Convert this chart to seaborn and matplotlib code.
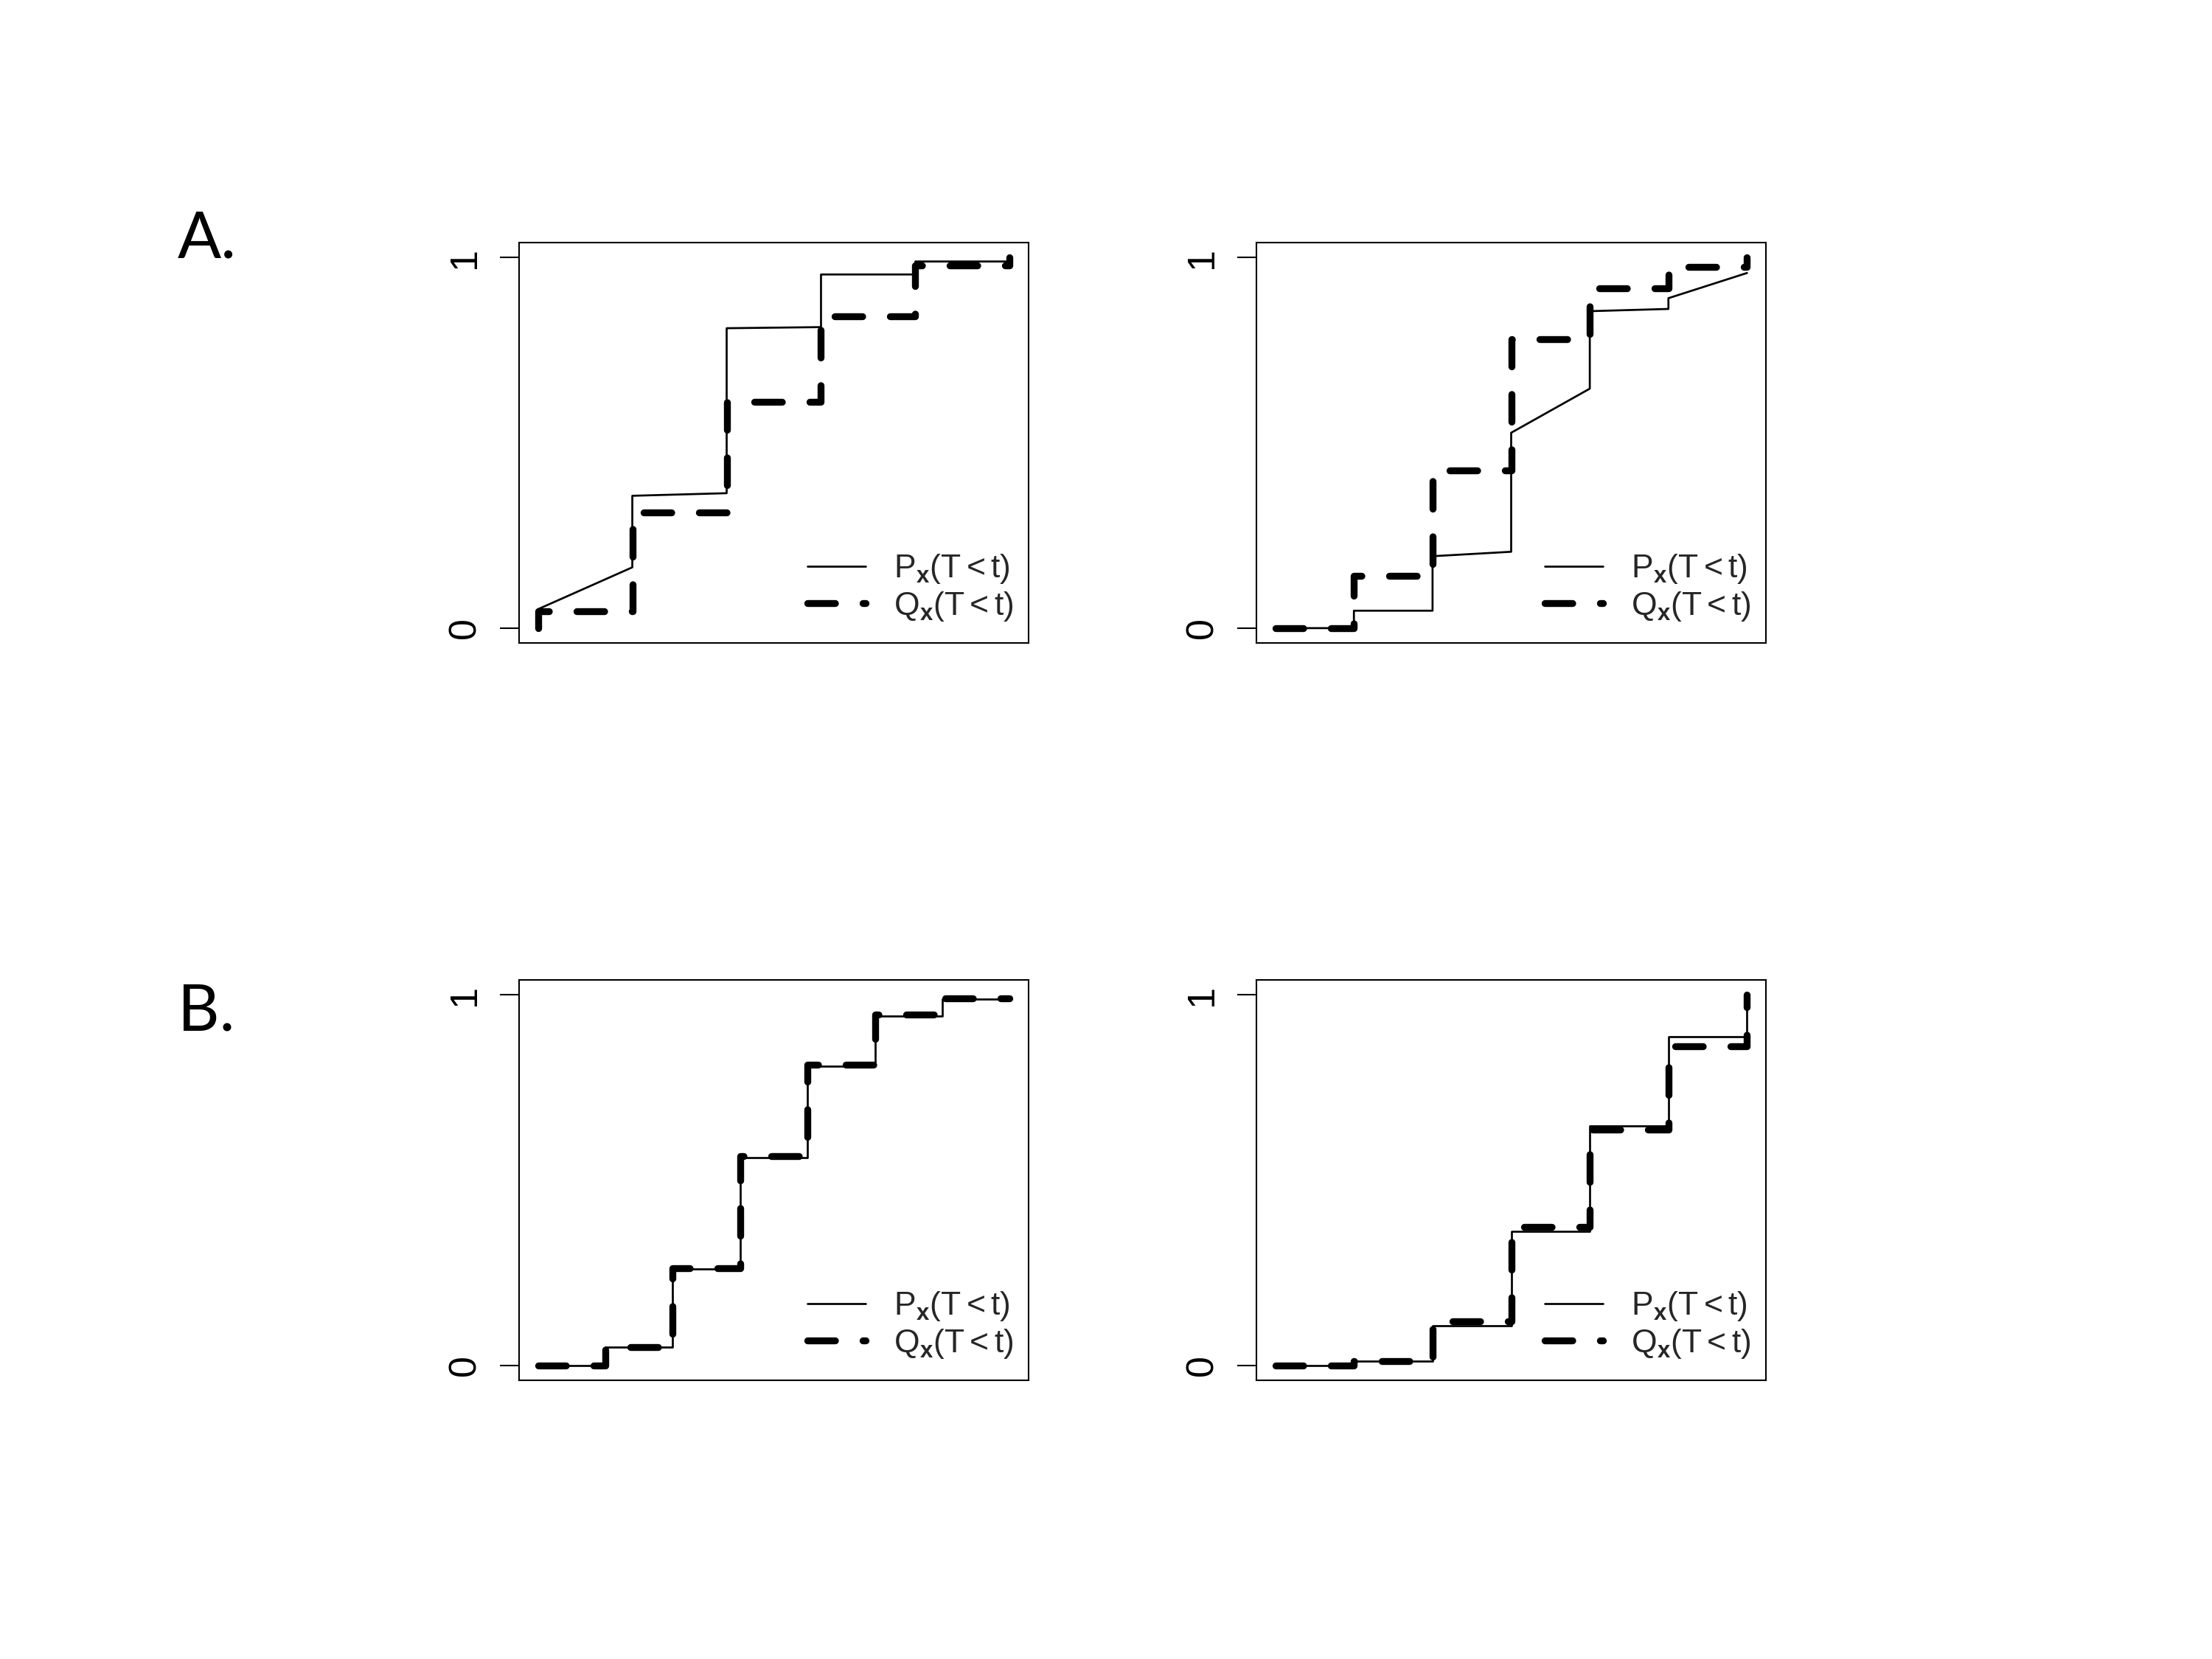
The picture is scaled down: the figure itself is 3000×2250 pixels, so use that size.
import seaborn as sns
import matplotlib.pyplot as plt

# A, left panel: P (thin solid), Q (thick dashed); time index 0..5
a1_p_t = [0, 1, 1, 2, 2, 3, 3, 4, 4, 5]
a1_p_v = [0.051, 0.164, 0.357, 0.364, 0.809, 0.812, 0.954, 0.954, 0.989, 0.989]
a1_q_t = [0, 0, 1, 1, 2, 2, 3, 3, 4, 4, 5, 5]
a1_q_v = [0, 0.046, 0.046, 0.3125, 0.3125, 0.61, 0.61, 0.842, 0.842, 0.979, 0.979, 1.0]

# A, right panel; time index 0..6
a2_p_t = [0, 1, 1, 2, 2, 3, 3, 4, 4, 5, 5, 6]
a2_p_v = [0, 0, 0.047, 0.047, 0.194, 0.206, 0.527, 0.646, 0.855, 0.861, 0.89, 0.958]
a2_q_t = [0, 1, 1, 2, 2, 3, 3, 4, 4, 5, 5, 6, 6]
a2_q_v = [0, 0, 0.141, 0.141, 0.425, 0.425, 0.779, 0.779, 0.917, 0.917, 0.974, 0.974, 1.0]

# B, left panel; time index 0..7
b1_p_t = [0, 1, 1, 2, 2, 3, 3, 4, 4, 5, 5, 6, 6, 7]
b1_p_v = [0, 0, 0.0495, 0.0495, 0.261, 0.261, 0.56, 0.56, 0.808, 0.808, 0.943, 0.943, 0.9886, 0.9886]
b1_q_t = [0, 1, 1, 2, 2, 3, 3, 4, 4, 5, 5, 6, 6, 7]
b1_q_v = [0, 0, 0.05, 0.05, 0.262, 0.262, 0.564, 0.564, 0.811, 0.811, 0.947, 0.947, 0.991, 0.991]

# B, right panel; time index 0..6
b2_p_t = [0, 1, 1, 2, 2, 3, 3, 4, 4, 5, 5, 6, 6]
b2_p_v = [0, 0, 0.0114, 0.0114, 0.108, 0.108, 0.362, 0.362, 0.646, 0.646, 0.886, 0.886, 1.0]
b2_q_t = [0, 1, 1, 2, 2, 3, 3, 4, 4, 5, 5, 6, 6]
b2_q_v = [0, 0, 0.011, 0.011, 0.12, 0.12, 0.373, 0.373, 0.636, 0.636, 0.861, 0.861, 1.0]

y_ticks = [0, 1]
y_tick_labels = ["0", "1"]
legend_labels = [r"$\mathrm{P}_{\mathbf{x}}\mathrm{(T<t)}$",
                 r"$\mathrm{Q}_{\mathbf{x}}\mathrm{(T<t)}$"]
panel_letters = ["A.", "B."]

sns.set_theme(style="white")
plt.rcParams["font.family"] = ["Liberation Sans", "DejaVu Sans"]
plt.rcParams["mathtext.fontset"] = "custom"
plt.rcParams["mathtext.rm"] = "Liberation Sans"
plt.rcParams["mathtext.it"] = "Liberation Sans:italic"
plt.rcParams["mathtext.bf"] = "Liberation Sans:bold"

fig = plt.figure(figsize=(10, 7.5), dpi=300)

W, H = 3000, 2250
box_w, box_h = 691, 543
lefts = [704, 1704]
tops = [329, 1329]

panels = [
    (0, 0, a1_p_t, a1_p_v, a1_q_t, a1_q_v),
    (0, 1, a2_p_t, a2_p_v, a2_q_t, a2_q_v),
    (1, 0, b1_p_t, b1_p_v, b1_q_t, b1_q_v),
    (1, 1, b2_p_t, b2_p_v, b2_q_t, b2_q_v),
]

for row, col, p_t, p_v, q_t, q_v in panels:
    ax = fig.add_axes([lefts[col] / W, 1 - (tops[row] + box_h) / H, box_w / W, box_h / H])
    sns.lineplot(x=p_t, y=p_v, ax=ax, sort=False, estimator=None, color="black",
                 lw=0.65, solid_capstyle="round", solid_joinstyle="round")
    sns.lineplot(x=q_t, y=q_v, ax=ax, sort=False, estimator=None, color="black",
                 lw=2.25, linestyle=(0, (4, 4)), dash_capstyle="round",
                 dash_joinstyle="round")
    n = max(p_t)
    ax.set_xlim(-0.04 * n, 1.04 * n)
    ax.set_ylim(-0.04, 1.04)
    ax.set_xticks([])
    ax.set_yticks(y_ticks)
    ax.set_yticklabels(y_tick_labels, rotation=90, va="center", fontsize=12.5)
    ax.tick_params(axis="y", left=True, length=6.2, width=0.5, pad=5.5, color="black",
                   labelcolor="black")
    for s in ax.spines.values():
        s.set_visible(True)
        s.set_color("black")
        s.set_linewidth(0.5)
    lines = ax.get_lines()
    ax.legend(handles=[lines[0], lines[1]], labels=legend_labels, loc="center left",
              bbox_to_anchor=(0.566, 0.138), frameon=False, fontsize=10.7,
              borderpad=0, borderaxespad=0, handlelength=1.78, handletextpad=0.85,
              labelspacing=0.12)

for i, letter in enumerate(panel_letters):
    fig.text(241 / W, 1 - [349, 1398][i] / H, letter, fontsize=21, family="Lato",
             ha="left", va="baseline", color="black")

fig.savefig("out.png", dpi=300)
